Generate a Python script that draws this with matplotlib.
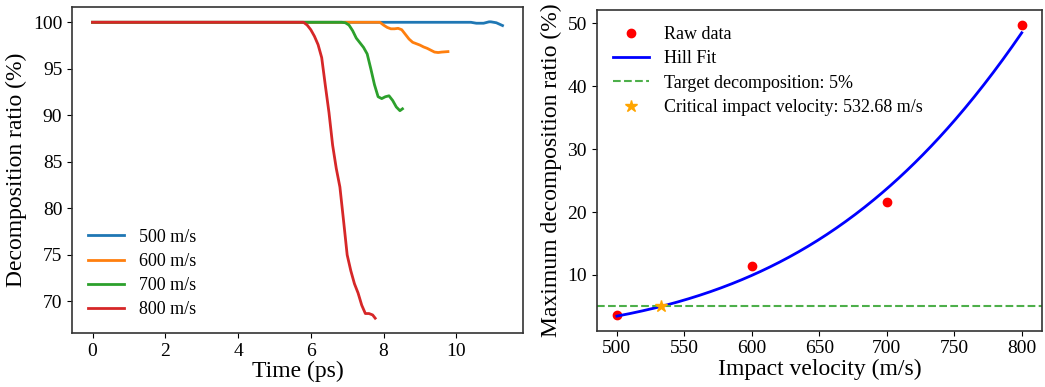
import matplotlib.pyplot as plt
import numpy as np

plt.rcParams["font.family"] = ["Liberation Serif", "DejaVu Serif"]
plt.rcParams["mathtext.fontset"] = "stix"

# ---------- left panel: decomposition ratio vs time ----------
t_500 = [0, 10.4, 10.55, 10.75, 10.9, 10.95, 11.1, 11.27]
y_500 = [100, 100, 99.9, 99.9, 100.05, 100.05, 99.95, 99.65]

t_600 = [0, 7.9, 8.0, 8.1, 8.2, 8.3, 8.4, 8.5, 8.6, 8.7, 8.8, 8.9, 9.0,
         9.1, 9.2, 9.3, 9.4, 9.5, 9.6, 9.77]
y_600 = [100, 100, 99.7, 99.45, 99.3, 99.3, 99.35, 99.2, 98.7, 98.2, 97.85,
         97.7, 97.55, 97.35, 97.2, 97.0, 96.8, 96.75, 96.8, 96.85]

t_700 = [0, 6.85, 6.95, 7.05, 7.15, 7.25, 7.35, 7.45, 7.55, 7.65, 7.75, 7.85,
         7.95, 8.05, 8.15, 8.25, 8.35, 8.45, 8.52]
y_700 = [100, 100, 99.95, 99.7, 99.1, 98.3, 97.8, 97.3, 96.6, 95.0, 93.3,
         92.0, 91.8, 92.0, 92.1, 91.6, 90.9, 90.5, 90.7]

t_800 = [0, 5.8, 5.9, 6.0, 6.1, 6.2, 6.3, 6.4, 6.5, 6.6, 6.7, 6.8, 6.9, 7.0,
         7.1, 7.2, 7.3, 7.4, 7.5, 7.6, 7.7, 7.77]
y_800 = [100, 100, 99.7, 99.2, 98.5, 97.6, 96.2, 93.2, 90.3, 86.8, 84.3, 82.3,
         78.7, 75.0, 73.3, 71.9, 70.9, 69.6, 68.7, 68.7, 68.55, 68.2]

series_labels = ["500 m/s", "600 m/s", "700 m/s", "800 m/s"]

# ---------- right panel: max decomposition vs impact velocity ----------
velocity = [500, 600, 700, 800]
max_decomp = [3.7, 11.5, 21.6, 49.8]

# Hill fit parameters: y = top * v^n / (K^n + v^n)
hill_top = 400.0
hill_n = 5.87
hill_k = 1121.1
target = 5.0
v_crit = 532.68


def hill(v):
    return hill_top * v ** hill_n / (hill_k ** hill_n + v ** hill_n)


fig = plt.figure(figsize=(10.45, 3.87), dpi=100)
ax1 = fig.add_axes([0.0689, 0.1395, 0.4316, 0.8424])
ax2 = fig.add_axes([0.571, 0.1455, 0.4261, 0.8287])

colors = ["#1f77b4", "#ff7f0e", "#2ca02c", "#d62728"]
for t, y, lab, c in zip([t_500, t_600, t_700, t_800],
                        [y_500, y_600, y_700, y_800], series_labels, colors):
    ax1.plot(t, y, color=c, lw=2, label=lab)

ax1.set_xlabel("Time (ps)", fontsize=17, labelpad=1)
ax1.set_ylabel("Decomposition ratio (%)", fontsize=17, labelpad=4)
ax1.tick_params(labelsize=14)
ax1.legend(loc="lower left", fontsize=13, frameon=False, labelspacing=0.4,
           bbox_to_anchor=(0.0, -0.005))

v_fit = np.linspace(velocity[0], velocity[-1], 300)
ax2.plot(velocity, max_decomp, "o", color="red", ms=6, label="Raw data")
ax2.plot(v_fit, hill(v_fit), color="blue", lw=2, label="Hill Fit")
ax2.axhline(target, color="#4daf4a", ls="--", lw=1.5,
            label="Target decomposition: 5%")
ax2.plot([v_crit], [target], "*", color="orange", ms=9,
         label=f"Critical impact velocity: {v_crit:.2f} m/s")

ax2.set_xlabel("Impact velocity (m/s)", fontsize=17, labelpad=1)
ax2.set_ylabel("Maximum decomposition ratio (%)", fontsize=17, labelpad=4)
ax2.tick_params(labelsize=14)
ax2.legend(loc="upper left", fontsize=13, frameon=False, labelspacing=0.4)

for ax in (ax1, ax2):
    for sp in ax.spines.values():
        sp.set_color("#333333")
        sp.set_linewidth(1.2)

fig.savefig("out.png", dpi=100)
